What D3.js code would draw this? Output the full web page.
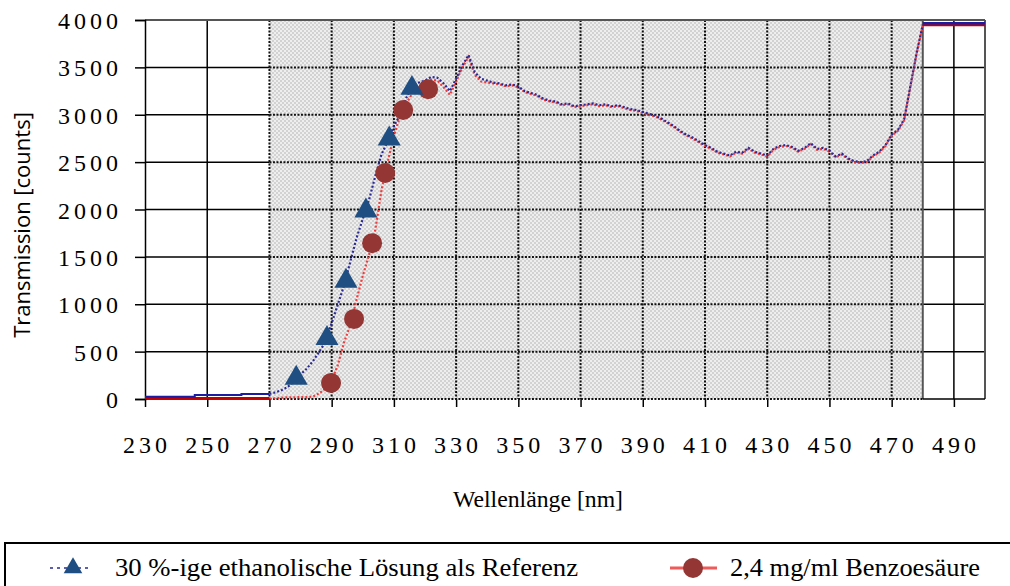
<!DOCTYPE html>
<html>
<head>
<meta charset="utf-8">
<script src="https://cdn.jsdelivr.net/npm/d3@7"></script>
<style>
  body { margin: 0; background: #fff; }
  svg { display: block; }
  .serif { font-family: "Liberation Serif", "Times New Roman", "DejaVu Serif", serif; }
</style>
</head>
<body>
<svg id="chart" width="1010" height="586"></svg>
<script>
// wavelengths of the measured range (gray area)
var wavelengths = [270,272,274,276,278,280,282,284,286,288,290,292,294,296,298,300,302,304,306,308,
  310,312,314,316,318,320,322,324,326,328,330,332,334,336,338,340,342,344,346,348,
  350,352,354,356,358,360,362,364,366,368,370,372,374,376,378,380,382,384,386,388,
  390,392,394,396,398,400,402,404,406,408,410,412,414,416,418,420,422,424,426,428,
  430,432,434,436,438,440,442,444,446,448,450,452,454,456,458,460,462,464,466,468,
  470,472,474,476,478,480];

// 30 %-ige ethanolische Lösung (blue)
var referenceCounts = [55,70,95,130,190,260,320,400,500,600,800,1000,1200,1450,1700,1900,2100,2350,2580,2720,
  2880,3000,3180,3300,3340,3360,3400,3390,3330,3250,3380,3520,3630,3450,3380,3360,3340,3330,3310,3320,
  3300,3250,3230,3210,3170,3150,3140,3110,3120,3090,3100,3110,3120,3100,3110,3090,3100,3080,3060,3050,
  3030,3010,2990,2960,2920,2880,2830,2790,2760,2720,2680,2650,2610,2590,2570,2610,2600,2650,2610,2590,
  2570,2640,2670,2680,2660,2620,2650,2700,2640,2650,2620,2560,2590,2540,2510,2500,2510,2570,2610,2680,
  2790,2840,2950,3300,3650,3950];

// 2,4 mg/ml Benzoesäure (red)
var benzoeCounts = [5,8,15,18,18,20,20,25,60,110,190,360,600,780,1050,1300,1520,1780,2200,2500,
  2780,2980,3120,3230,3290,3290,3370,3360,3290,3210,3350,3500,3610,3420,3350,3340,3330,3320,3300,3310,
  3290,3240,3220,3200,3160,3140,3130,3100,3110,3080,3090,3100,3110,3090,3100,3080,3090,3070,3050,3040,
  3020,3000,2980,2950,2910,2870,2820,2780,2750,2710,2670,2640,2600,2580,2560,2600,2590,2640,2600,2580,
  2560,2630,2660,2670,2650,2610,2640,2690,2630,2640,2610,2550,2580,2530,2500,2490,2500,2560,2600,2670,
  2780,2830,2940,3290,3640,3945];

// constant readings outside the measured range
var referenceLeft = [[230,24],[246,24],[246,42],[261,42],[261,53],[270,53]];
var benzoeLeft = [[230,7],[270,7]];
var referenceRight = [[480,3965],[500,3965]];
var benzoeRight = [[480,3948],[500,3948]];

// marker points
var referenceMarkerNm = [278.6, 288.5, 294.6, 301, 308.5, 315.8];
var referenceMarkerVal = [220, 640, 1245, 1985, 2745, 3280];
var benzoeMarkerNm = [289.8, 297.2, 303, 307.2, 313, 321];
var benzoeMarkerVal = [170, 845, 1645, 2385, 3050, 3270];

var xTicks = [230,250,270,290,310,330,350,370,390,410,430,450,470,490];
var yTicks = [0,500,1000,1500,2000,2500,3000,3500,4000];
var rangeStart = 270, rangeEnd = 480;

var legendLabels = ["30 %-ige ethanolische Lösung als Referenz", "2,4 mg/ml Benzoesäure"];

var svg = d3.select("#chart");

var x = d3.scaleLinear().domain([230, 500]).range([145, 985]);
var y = d3.scaleLinear().domain([0, 4000]).range([399, 20]);

// stipple pattern for measured range
var defs = svg.append("defs");
var pat = defs.append("pattern")
    .attr("id", "stipple")
    .attr("patternUnits", "userSpaceOnUse")
    .attr("width", 4).attr("height", 4);
pat.append("rect").attr("width", 4).attr("height", 4).attr("fill", "#eeeeee");
pat.append("rect").attr("width", 2).attr("height", 2).attr("fill", "#d2d2d2");
pat.append("rect").attr("x", 2).attr("y", 2).attr("width", 2).attr("height", 2).attr("fill", "#d2d2d2");

var g = svg.append("g");

g.append("rect")
    .attr("x", x(rangeStart)).attr("y", y(4000))
    .attr("width", x(rangeEnd) - x(rangeStart))
    .attr("height", y(0) - y(4000))
    .attr("fill", "url(#stipple)");

// grid: solid outside, dotted inside measured range
function hSeg(v, x0, x1, dotted) {
  g.append("line")
      .attr("x1", x0).attr("x2", x1)
      .attr("y1", y(v)).attr("y2", y(v))
      .attr("stroke", dotted ? "#111" : "#000")
      .attr("stroke-width", dotted ? 2 : 1.5)
      .attr("stroke-dasharray", dotted ? "2,1.5" : null);
}
function vSeg(v, dotted) {
  g.append("line")
      .attr("x1", x(v)).attr("x2", x(v))
      .attr("y1", y(4000)).attr("y2", y(0))
      .attr("stroke", dotted ? "#111" : "#000")
      .attr("stroke-width", dotted ? 2 : 1.5)
      .attr("stroke-dasharray", dotted ? "2,1.5" : null);
}

yTicks.forEach(function(v) {
  if (v === 0 || v === 4000) return;
  hSeg(v, x(230), x(rangeStart), false);
  hSeg(v, x(rangeStart), x(rangeEnd), true);
  hSeg(v, x(rangeEnd), x(500), false);
});
xTicks.forEach(function(v) {
  if (v === 230) return;
  vSeg(v, v >= rangeStart && v <= rangeEnd);
});

// frame
g.append("line").attr("x1", x(230)).attr("x2", x(500)).attr("y1", y(4000)).attr("y2", y(4000))
    .attr("stroke", "#555").attr("stroke-width", 2);
g.append("line").attr("x1", x(500)).attr("x2", x(500)).attr("y1", y(4000)).attr("y2", y(0))
    .attr("stroke", "#555").attr("stroke-width", 2);
g.append("line").attr("x1", x(rangeEnd)).attr("x2", x(rangeEnd)).attr("y1", y(4000)).attr("y2", y(0))
    .attr("stroke", "#555").attr("stroke-width", 2);

// axes
var yAxis = d3.axisLeft(y).tickValues(yTicks).tickSize(10).tickFormat("");
g.append("g").attr("transform", "translate(" + x(230) + ",0)").call(yAxis)
    .call(function(a) { a.selectAll("line,path").attr("stroke", "#000").attr("stroke-width", 1.5); });

var xAxis = d3.axisBottom(x).tickValues(xTicks).tickSize(8).tickSizeOuter(0).tickFormat("");
g.append("g").attr("transform", "translate(0," + y(0) + ")").call(xAxis)
    .call(function(a) {
      a.select("path").remove();
      a.selectAll("line").attr("stroke", "#000").attr("stroke-width", 1.5);
    });
hSeg(0, x(230), x(rangeStart), false);
hSeg(0, x(rangeStart), x(rangeEnd), true);
hSeg(0, x(rangeEnd), x(500), false);

g.selectAll(".ylab").data(yTicks).enter().append("text")
    .attr("class", "ylab serif")
    .attr("x", 122).attr("y", function(d) { return y(d) + 9; })
    .attr("text-anchor", "end")
    .attr("font-size", 24).attr("letter-spacing", 4)
    .text(function(d) { return d; });

g.selectAll(".xlab").data(xTicks).enter().append("text")
    .attr("class", "xlab serif")
    .attr("x", function(d) { return x(d) + 2; }).attr("y", 453)
    .attr("text-anchor", "middle")
    .attr("font-size", 24).attr("letter-spacing", 4)
    .text(function(d) { return d; });

svg.append("text")
    .attr("transform", "translate(30,225) rotate(-90)")
    .attr("text-anchor", "middle")
    .attr("font-family", "Open Sans, sans-serif").attr("font-size", 22)
    .text("Transmission [counts]");

svg.append("text")
    .attr("class", "serif")
    .attr("x", 538).attr("y", 507)
    .attr("text-anchor", "middle")
    .attr("font-size", 23)
    .attr("textLength", 170).attr("lengthAdjust", "spacingAndGlyphs")
    .text("Wellenlänge [nm]");

// series
var line = d3.line().x(function(d) { return x(d[0]); }).y(function(d) { return y(d[1]); });

var refData = wavelengths.map(function(w, i) { return [w, referenceCounts[i]]; });
var benzData = wavelengths.map(function(w, i) { return [w, benzoeCounts[i]]; });

g.append("path").datum(benzoeLeft).attr("d", line)
    .attr("fill", "none").attr("stroke", "#c00000").attr("stroke-width", 2.5);
g.append("path").datum(referenceLeft).attr("d", line)
    .attr("fill", "none").attr("stroke", "#1c1ca0").attr("stroke-width", 2);
g.append("path").datum(benzoeRight).attr("d", line)
    .attr("fill", "none").attr("stroke", "#c00000").attr("stroke-width", 2.5);
g.append("path").datum(referenceRight).attr("d", line)
    .attr("fill", "none").attr("stroke", "#1c1ca0").attr("stroke-width", 2.5);

g.append("path").datum(benzData).attr("d", line)
    .attr("fill", "none").attr("stroke", "#f03c3c").attr("stroke-width", 2.2)
    .attr("stroke-dasharray", "2,2");
g.append("path").datum(refData).attr("d", line)
    .attr("fill", "none").attr("stroke", "#2a2a96").attr("stroke-width", 2.2)
    .attr("stroke-dasharray", "2,2");

var tri = d3.symbol().type(d3.symbolTriangle).size(230);

g.selectAll(".benzmark").data(benzoeMarkerNm).enter().append("circle")
    .attr("class", "benzmark")
    .attr("cx", function(d) { return x(d); })
    .attr("cy", function(d, i) { return y(benzoeMarkerVal[i]); })
    .attr("r", 10)
    .attr("fill", "#943634");

g.selectAll(".refmark").data(referenceMarkerNm).enter().append("path")
    .attr("class", "refmark")
    .attr("d", tri)
    .attr("transform", function(d, i) { return "translate(" + x(d) + "," + y(referenceMarkerVal[i]) + ")"; })
    .attr("fill", "#1f4e82");

// legend
var leg = svg.append("g");
leg.append("rect")
    .attr("x", 5).attr("y", 543).attr("width", 1100).attr("height", 100)
    .attr("fill", "#fff").attr("stroke", "#000").attr("stroke-width", 2);

leg.append("line").attr("x1", 50).attr("x2", 92).attr("y1", 568).attr("y2", 568)
    .attr("stroke", "#2a2a96").attr("stroke-width", 1.5).attr("stroke-dasharray", "3,4");
leg.append("path").attr("d", d3.symbol().type(d3.symbolTriangle).size(150))
    .attr("transform", "translate(73,568)").attr("fill", "#1f4e82");
leg.append("text").attr("class", "serif").attr("x", 115).attr("y", 576)
    .attr("textLength", 463).attr("lengthAdjust", "spacingAndGlyphs")
    .attr("font-size", 26)
    .text(legendLabels[0]);

leg.append("line").attr("x1", 670).attr("x2", 717).attr("y1", 568).attr("y2", 568)
    .attr("stroke", "#f05a5a").attr("stroke-width", 3);
leg.append("circle").attr("cx", 693).attr("cy", 568).attr("r", 10).attr("fill", "#943634");
leg.append("text").attr("class", "serif").attr("x", 730).attr("y", 576)
    .attr("textLength", 250).attr("lengthAdjust", "spacingAndGlyphs")
    .attr("font-size", 26)
    .text(legendLabels[1]);
</script>
</body>
</html>
